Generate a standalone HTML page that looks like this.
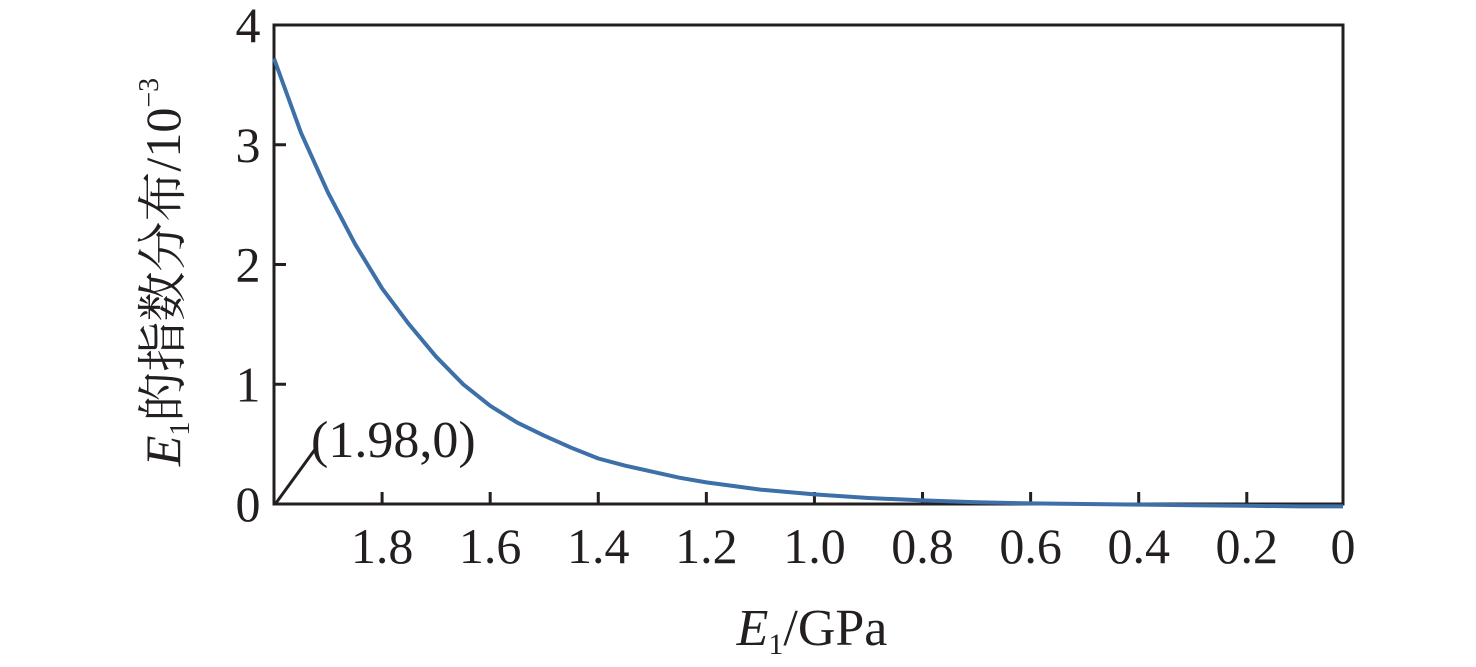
<!DOCTYPE html>
<html><head><meta charset="utf-8"><style>
html,body{margin:0;padding:0;background:#fff;width:1476px;height:667px;overflow:hidden}
svg text{font-family:"Liberation Serif","Noto Serif CJK SC",serif;fill:#231f20}
</style></head><body>
<svg id="chart" width="1476" height="667">
<g id="axes"></g>
<g id="marks"></g>
<text x="812" y="645" font-size="52" text-anchor="middle"><tspan font-style="italic">E</tspan><tspan font-size="30" dy="9">1</tspan><tspan dy="-9">/GPa</tspan></text>
<text transform="translate(180,272) rotate(-90)" font-size="50" text-anchor="middle"><tspan font-style="italic">E</tspan><tspan font-size="28" dy="9">1</tspan><tspan dy="-9">的指数分布/10</tspan><tspan font-size="28" dy="-22">−3</tspan></text>
<line x1="276" y1="503" x2="316" y2="448" stroke="#231f20" stroke-width="3"/>
<text x="311" y="457" font-size="52">(1.98,0)</text>
</svg>
<script>
const xTicks=[1.8,1.6,1.4,1.2,1.0,0.8,0.6,0.4,0.2];
const xTickLabels=["1.8","1.6","1.4","1.2","1.0","0.8","0.6","0.4","0.2"];
const yTicks=[0,1,2,3,4];
const yTickLabels=["0","1","2","3","4"];
const seriesX=[2.0,1.95,1.9,1.85,1.8,1.75,1.7,1.65,1.6,1.55,1.5,1.45,1.4,1.35,1.3,1.25,1.2,1.1,1.0,0.9,0.8,0.7,0.6,0.5,0.4,0.3,0.2,0.1,0.022];
const seriesY=[3.72,3.1,2.6,2.17,1.8,1.5,1.23,1.0,0.82,0.68,0.57,0.47,0.38,0.32,0.27,0.22,0.18,0.12,0.08,0.05,0.03,0.015,0.005,0,-0.005,-0.01,-0.015,-0.02,-0.02];
const L=274,R=1343,T=25,B=504;
const xMin=2.0,xMax=0.022,yMin=0,yMax=4;
const xs=v=>L+(xMin-v)/(xMin-xMax)*(R-L);
const ys=v=>B-(v-yMin)/(yMax-yMin)*(B-T);
const NS="http://www.w3.org/2000/svg";
const axes=document.getElementById('axes'),marks=document.getElementById('marks');
function mk(tag,attrs,parent){const e=document.createElementNS(NS,tag);for(const k in attrs)e.setAttribute(k,attrs[k]);parent.appendChild(e);return e;}
const frame=mk('rect',{x:L,y:T,width:R-L,height:B-T,fill:'none',stroke:'#231f20','stroke-width':3},axes);


xTicks.forEach((v,i)=>{
 const t=mk('line',{x1:xs(v),x2:xs(v),y1:B,y2:B-12,stroke:'#231f20','stroke-width':3},axes);
 
 
 const l=mk('text',{x:xs(v),y:563,'font-size':50,'text-anchor':'middle'},axes);
 l.textContent=xTickLabels[i];
 
 
});
const z=mk('text',{x:R,y:563,'font-size':50,'text-anchor':'middle'},axes);
z.textContent="0";


yTicks.forEach((v,i)=>{
 if(v>0&&v<4){const t=mk('line',{x1:L,x2:L+12,y1:ys(v),y2:ys(v),stroke:'#231f20','stroke-width':3},axes);
 
 }
 const l=mk('text',{x:248,y:ys(v)+17,'font-size':50,'text-anchor':'middle'},axes);
 l.textContent=yTickLabels[i];
 
 
});
const d=seriesX.map((x,i)=>(i?'L':'M')+xs(x).toFixed(1)+','+ys(seriesY[i]).toFixed(1)).join('');
const p=mk('path',{d:d,fill:'none',stroke:'#3d6fa8','stroke-width':4,'stroke-linejoin':'round'},marks);


</script>
</body></html>
